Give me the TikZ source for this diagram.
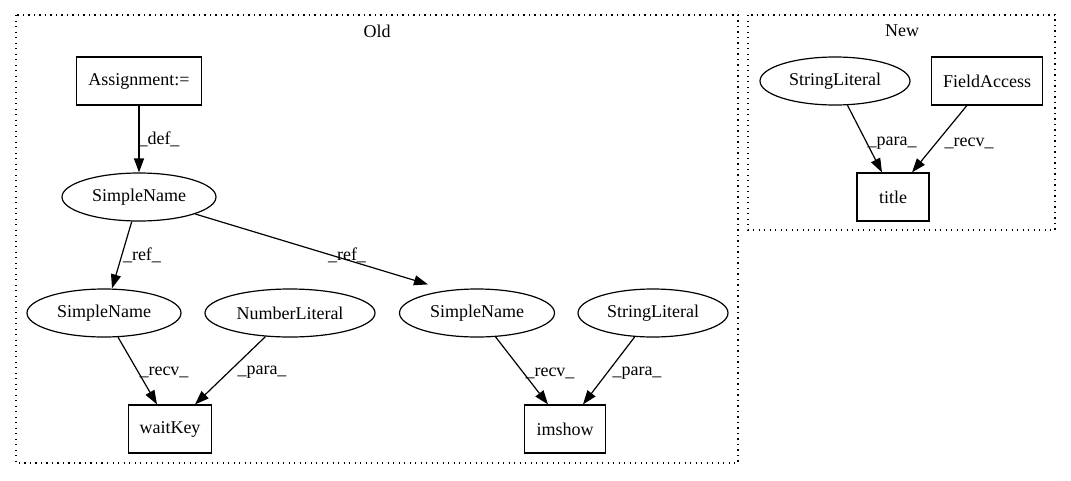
\documentclass[tikz,border=0pt]{standalone}
\usepackage{fontspec}
\setmainfont{Liberation Serif}
\usetikzlibrary{arrows.meta,shapes.geometric}
\begin{document}
\begin{tikzpicture}[x=1pt,y=-1pt,
  every node/.style={font=\fontsize{18}{20}\selectfont},
  box/.style={draw,line width=1.2pt,rectangle,minimum height=48pt,inner sep=0pt},
  oval/.style={draw,line width=1.2pt,ellipse,minimum height=48pt,inner sep=0pt},
  edge/.style={draw,line width=1.2pt,-{Triangle[length=14pt,width=10pt]}},
  cluster/.style={draw,line width=1.3pt,dash pattern=on 1.3pt off 4.2pt},
  lbl/.style={inner sep=0pt}]
\useasboundingbox (0,0) rectangle (1071,480);
% clusters
\draw[cluster] (16,15) rectangle (738,463);
\draw[cluster] (748,15) rectangle (1055,230);
\node[lbl] (oldlbl) at (377,31) {Old};
\node[lbl] (newlbl) at (902,31) {New};
% old nodes
\node[box,minimum width=125pt] (asg) at (139,81) {Assignment:=};
\node[oval,minimum width=154pt] (sn0) at (139,197) {SimpleName};
\node[oval,minimum width=154pt] (sn1) at (104,313) {SimpleName};
\node[oval,minimum width=170pt] (nl) at (290,313) {NumberLiteral};
\node[oval,minimum width=155pt] (sn2) at (477,313) {SimpleName};
\node[oval,minimum width=150pt] (sl1) at (653,313) {StringLiteral};
\node[box,minimum width=83pt] (wk) at (170,429) {waitKey};
\node[box,minimum width=81pt] (ims) at (565,429) {imshow};
% new nodes
\node[oval,minimum width=150pt] (sl2) at (835,81) {StringLiteral};
\node[box,minimum width=111pt] (fa) at (987,81) {FieldAccess};
\node[box,minimum width=72pt] (tt) at (893,197) {title};
% edges
\draw[edge] (asg) -- (sn0);
\draw[edge] (sn0) -- ([xshift=8pt]sn1.north);
\draw[edge] (sn0) -- ([xshift=-49pt,yshift=4pt]sn2.north);
\draw[edge] (sn1) -- ([xshift=-13pt]wk.north);
\draw[edge] (nl) -- ([xshift=25pt]wk.north);
\draw[edge] (sn2) -- ([xshift=-17pt]ims.north);
\draw[edge] (sl1) -- ([xshift=18pt]ims.north);
\draw[edge] (sl2) -- ([xshift=-11pt]tt.north);
\draw[edge] (fa) -- ([xshift=19pt]tt.north);
% edge labels
\node[lbl] (l1) at (159,139) {\_def\_};
\node[lbl] (l2) at (142,255) {\_ref\_};
\node[lbl] (l3) at (347,255) {\_ref\_};
\node[lbl] (l4) at (164,372) {\_recv\_};
\node[lbl] (l5) at (262,372) {\_para\_};
\node[lbl] (l6) at (550,373) {\_recv\_};
\node[lbl] (l7) at (637,373) {\_para\_};
\node[lbl] (l8) at (892,143) {\_para\_};
\node[lbl] (l9) at (969,143) {\_recv\_};
\end{tikzpicture}
\end{document}
